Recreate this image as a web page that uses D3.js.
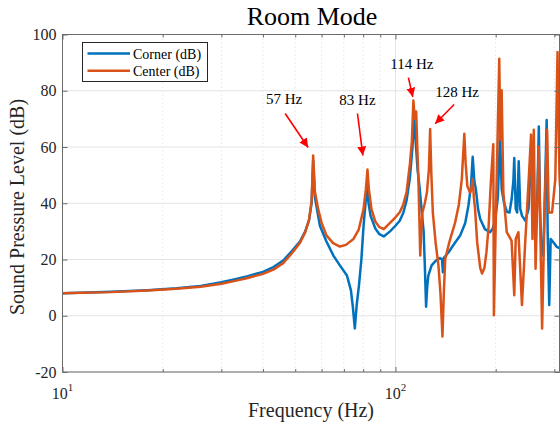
<!DOCTYPE html>
<html>
<head>
<meta charset="utf-8">
<script src="https://cdn.jsdelivr.net/npm/d3@7"></script>
<style>
    html, body { margin: 0; padding: 0; background: #ffffff; }
    svg { display: block; font-family: "Liberation Serif", "Times New Roman", serif; }
</style>
</head>
<body>
<div id="chart"></div>
<script>
// Corner microphone (blue)
const CORNER_FREQ = [
    10, 14, 18, 22, 26, 30, 33, 36, 40, 43, 46, 49, 51.7, 53.5, 55, 56, 56.6, 57.3, 59.3, 62,
    65.1, 68, 71.5, 73.5, 74.5, 75.5, 76.5, 77.7, 79, 80.2, 81.3, 82.1, 83, 84.2, 87, 89.5, 92.2, 96.3,
    100, 103, 105.5, 108, 110.5, 112.5, 113.8, 115, 116.5, 118.3, 120, 121.5, 122.5, 123.6, 124.5, 125.5,
    128.4, 132, 136, 138, 138.8, 139.6, 144.4, 150, 156.4, 162, 165.6, 168.5, 170.6, 172.5, 174.4, 177,
    179.7, 185.6, 192.3, 196, 199.4, 203, 206, 208.5, 212, 216, 220, 223.3, 226, 227.4, 229.7, 232,
    234.5, 237, 240, 245.6, 251, 255.4, 258, 262, 264.5, 267, 269.5, 271.5, 274, 277.7, 280, 284.5,
    286.5, 289.6, 292.5, 298, 305, 312
];
const CORNER_SPL = [
    8.0, 8.5, 9.1, 9.8, 10.6, 11.9, 13.0, 14.1, 15.6, 17.3, 19.6, 23.2, 26.5, 29.8, 34.0, 40.0, 55.0, 42.0, 32.0, 26.5,
    21.4, 18.0, 14.3, 9.0, 3.0, -4.5, 4.0, 10.8, 20.0, 32.0, 40.0, 45.9, 40.0, 35.5, 31.0, 29.0, 28.2, 30.0,
    32.0, 33.8, 36.5, 41.0, 49.0, 60.0, 71.0, 62.0, 52.0, 44.9, 36.7, 30.0, 18.0, 3.2, 10.0, 14.3,
    17.9, 19.5, 20.5, 20.0, 15.5, 20.5, 22.6, 25.5, 28.5, 33.0, 39.1, 46.0, 56.5, 48.0, 44.9, 38.0,
    34.4, 30.8, 29.7, 31.0, 34.4, 42.0, 63.8, 45.0, 40.0, 37.0, 36.7, 41.4, 48.0, 56.1, 38.0, 36.7,
    54.9, 38.0, 35.5, 33.8, 38.0, 58.0, 42.0, 32.0, 32.0, 45.0, 67.3, 40.0, 25.0, 21.4, 35.0, 69.6,
    30.0, 3.8, 27.3, 26.1, 24.5, 24.0
];

// Center microphone (orange)
const CENTER_FREQ = [
    10, 14, 18, 22, 26, 30, 33, 36, 40, 43, 46, 49, 51.7, 53.5, 55, 56, 56.6, 57.3, 58.6, 60,
    62.1, 65, 68.1, 71, 74.8, 77.5, 80.2, 81.5, 82.4, 83.2, 84.7, 87, 89.5, 92.2, 96.3, 100, 103, 105.5,
    108, 110.5, 112, 113.2, 114.3, 115.4, 116.3, 117.2, 118.7, 119.5, 120.5, 122.5, 124.3, 126, 127.1, 128.2,
    129.5, 132, 134.6, 136.5, 138.4, 139.7, 141.1, 145, 151.1, 155, 158.2, 161, 162.5, 164.4, 167.4, 169,
    170.6, 172, 173.4, 176, 179.7, 182, 185, 187.6, 190.5, 193.5, 196.7, 197.5, 200, 205, 206.5, 208.4,
    210.9, 215.9, 223.2, 227.4, 229.7, 234, 239.8, 245.6, 251.3, 255.4, 257.9, 260.3, 263.5, 269.4, 272.6, 275.7,
    280.5, 285.4, 288.6, 295.3, 302, 306.7, 310.8, 312
];
const CENTER_SPL = [
    8.0, 8.4, 9.0, 9.6, 10.3, 11.4, 12.4, 13.4, 14.9, 16.4, 18.7, 22.4, 26.0, 29.5, 34.0, 41.0, 57.0, 44.0, 37.9, 33.0,
    28.5, 25.8, 24.6, 25.2, 27.3, 30.5, 37.9, 45.0, 52.0, 45.0, 37.9, 33.5, 31.5, 30.8, 33.0, 35.0, 36.8, 39.5,
    44.0, 54.0, 62.0, 76.5, 70.0, 72.6, 60.0, 48.5, 21.4, 30.0, 36.7, 40.0, 43.8, 52.0, 66.4, 50.0,
    36.7, 26.0, 17.9, 8.0, -7.4, 8.0, 20.2, 26.0, 33.2, 39.5, 48.5, 64.7, 54.0, 46.1, 43.8, 45.0,
    48.5, 42.0, 37.9, 26.0, 17.0, 15.0, 17.0, 22.6, 32.0, 48.0, 61.0, 0.2, 32.0, 91.4, 62.6, 80.2,
    43.8, 29.7, 26.7, 7.3, 27.3, 29.7, 3.8, 27.3, 48.5, 64.4, 27.3, 66.1, 16.7, 60.2, 27.3, -4.5,
    38.0, 66.1, 36.7, 36.7, 48.5, 93.8, 50.8, 46.0
];

const SERIES_LABELS = ['Corner (dB)', 'Center (dB)'];

const X_DOMAIN = [10, 312];
const Y_DOMAIN = [-20, 100];
const Y_TICKS = [-20, 0, 20, 40, 60, 80, 100];
const X_MAJOR_TICKS = [10, 100];
const X_MAJOR_EXPONENTS = ['1', '2'];
const X_MINOR_TICKS = [20, 30, 40, 50, 60, 70, 80, 90, 200, 300];

// resonance peaks that carry a label
const PEAK_LABELS = ['57 Hz', '83 Hz', '114 Hz', '128 Hz'];
const PEAK_FREQ = [56.6, 82.4, 113.2, 127.1];
const PEAK_SPL = [57.0, 52.0, 76.5, 66.4];

// label / arrow offsets from the peak, in pixels
const PEAK_LAYOUT = [
    { text: [-29, -51], tail: [-28, -42], tip: [-5, -8] },
    { text: [-10, -65], tail: [-10, -56], tip: [-4.6, -14] },
    { text: [-1.6, -31.5], tail: [-5, -23], tip: [-0.6, -3.7] },
    { text: [27, -32.3], tail: [24, -24.5], tip: [5, -5.3] }
];

const COLOR_CORNER = '#0072BD';
const COLOR_CENTER = '#D95319';
const AXIS_COLOR = '#6b6b6b';
const TEXT_COLOR = '#262626';
const GRID_COLOR = '#e3e3e3';

const width = 560;
const height = 432;
const plot = { left: 62.5, right: 560, top: 34.5, bottom: 372 };

const svg = d3.select('#chart')
    .append('svg')
    .attr('width', width)
    .attr('height', height);

const xScale = d3.scaleLog().domain(X_DOMAIN).range([plot.left, plot.right]);
const yScale = d3.scaleLinear().domain(Y_DOMAIN).range([plot.bottom, plot.top]);

svg.append('defs')
    .append('clipPath')
    .attr('id', 'plot-clip')
    .append('rect')
    .attr('x', plot.left)
    .attr('y', plot.top)
    .attr('width', plot.right - plot.left)
    .attr('height', plot.bottom - plot.top);

// grid
const gridGroup = svg.append('g');

gridGroup.selectAll('.grid-y')
    .data(Y_TICKS)
    .enter()
    .append('line')
    .attr('x1', plot.left)
    .attr('x2', plot.right)
    .attr('y1', (value) => yScale(value))
    .attr('y2', (value) => yScale(value))
    .attr('stroke', GRID_COLOR)
    .attr('stroke-width', 1);

gridGroup.selectAll('.grid-x-major')
    .data(X_MAJOR_TICKS)
    .enter()
    .append('line')
    .attr('x1', (value) => xScale(value))
    .attr('x2', (value) => xScale(value))
    .attr('y1', plot.top)
    .attr('y2', plot.bottom)
    .attr('stroke', GRID_COLOR)
    .attr('stroke-width', 1);

gridGroup.selectAll('.grid-x-minor')
    .data(X_MINOR_TICKS)
    .enter()
    .append('line')
    .attr('x1', (value) => xScale(value))
    .attr('x2', (value) => xScale(value))
    .attr('y1', plot.top)
    .attr('y2', plot.bottom)
    .attr('stroke', '#e6e6e6')
    .attr('stroke-width', 1)
    .attr('stroke-dasharray', '1.5,2.5');

// series
const lineGenerator = d3.line()
    .x((datum) => xScale(datum[0]))
    .y((datum) => yScale(datum[1]));

const seriesGroup = svg.append('g').attr('clip-path', 'url(#plot-clip)');

seriesGroup.append('path')
    .datum(d3.zip(CORNER_FREQ, CORNER_SPL))
    .attr('fill', 'none')
    .attr('stroke', COLOR_CORNER)
    .attr('stroke-width', 2.5)
    .attr('stroke-linejoin', 'round')
    .attr('d', lineGenerator);

seriesGroup.append('path')
    .datum(d3.zip(CENTER_FREQ, CENTER_SPL))
    .attr('fill', 'none')
    .attr('stroke', COLOR_CENTER)
    .attr('stroke-width', 2.5)
    .attr('stroke-linejoin', 'round')
    .attr('d', lineGenerator);

// axes box with inward ticks on all sides
const axisGroup = svg.append('g');

function styleAxis(group) {
    group.select('.domain').remove();
    group.selectAll('line').attr('stroke', AXIS_COLOR);
}

axisGroup.append('g')
    .attr('transform', `translate(0,${plot.bottom})`)
    .call(d3.axisBottom(xScale).tickValues(X_MAJOR_TICKS).tickSize(-5).tickFormat(''))
    .call(styleAxis);
axisGroup.append('g')
    .attr('transform', `translate(0,${plot.bottom})`)
    .call(d3.axisBottom(xScale).tickValues(X_MINOR_TICKS).tickSize(-3).tickFormat(''))
    .call(styleAxis);
axisGroup.append('g')
    .attr('transform', `translate(0,${plot.top})`)
    .call(d3.axisTop(xScale).tickValues(X_MAJOR_TICKS).tickSize(-5).tickFormat(''))
    .call(styleAxis);
axisGroup.append('g')
    .attr('transform', `translate(0,${plot.top})`)
    .call(d3.axisTop(xScale).tickValues(X_MINOR_TICKS).tickSize(-3).tickFormat(''))
    .call(styleAxis);
axisGroup.append('g')
    .attr('transform', `translate(${plot.left},0)`)
    .call(d3.axisLeft(yScale).tickValues(Y_TICKS).tickSize(-5).tickFormat(''))
    .call(styleAxis);
axisGroup.append('g')
    .attr('transform', `translate(${plot.right - 0.5},0)`)
    .call(d3.axisRight(yScale).tickValues(Y_TICKS).tickSize(-5).tickFormat(''))
    .call(styleAxis);

axisGroup.append('rect')
    .attr('x', plot.left)
    .attr('y', plot.top)
    .attr('width', plot.right - plot.left - 0.5)
    .attr('height', plot.bottom - plot.top)
    .attr('fill', 'none')
    .attr('stroke', AXIS_COLOR)
    .attr('stroke-width', 1);

// tick labels
svg.append('g')
    .selectAll('text')
    .data(Y_TICKS)
    .enter()
    .append('text')
    .attr('x', plot.left - 6)
    .attr('y', (value) => yScale(value) + 5.5)
    .attr('text-anchor', 'end')
    .attr('font-size', 16)
    .attr('fill', TEXT_COLOR)
    .text((value) => value);

const xLabels = svg.append('g')
    .selectAll('text')
    .data(X_MAJOR_TICKS)
    .enter()
    .append('text')
    .attr('x', (value) => xScale(value))
    .attr('y', 399)
    .attr('text-anchor', 'middle')
    .attr('font-size', 16)
    .attr('fill', TEXT_COLOR);

xLabels.append('tspan').text('10');
xLabels.append('tspan')
    .attr('dy', -8)
    .attr('font-size', 11)
    .text((value, index) => X_MAJOR_EXPONENTS[index]);

// titles
svg.append('text')
    .attr('x', 312)
    .attr('y', 25)
    .attr('text-anchor', 'middle')
    .attr('font-size', 26)
    .attr('fill', '#000000')
    .text('Room Mode');

svg.append('text')
    .attr('x', 311)
    .attr('y', 417)
    .attr('text-anchor', 'middle')
    .attr('font-size', 20)
    .attr('fill', TEXT_COLOR)
    .text('Frequency (Hz)');

svg.append('text')
    .attr('transform', 'rotate(-90)')
    .attr('x', -207)
    .attr('y', 24)
    .attr('text-anchor', 'middle')
    .attr('font-size', 20)
    .attr('fill', TEXT_COLOR)
    .text('Sound Pressure Level (dB)');

// legend
const legend = svg.append('g');

legend.append('rect')
    .attr('x', 82.5)
    .attr('y', 42.5)
    .attr('width', 125)
    .attr('height', 39)
    .attr('fill', '#ffffff')
    .attr('stroke', '#262626')
    .attr('stroke-width', 1);

[COLOR_CORNER, COLOR_CENTER].forEach((color, index) => {
    const rowY = 53.5 + index * 17.3;
    legend.append('line')
        .attr('x1', 87.5)
        .attr('x2', 130)
        .attr('y1', rowY)
        .attr('y2', rowY)
        .attr('stroke', color)
        .attr('stroke-width', 2.5);
    legend.append('text')
        .attr('x', 133)
        .attr('y', rowY + 5)
        .attr('font-size', 14)
        .attr('fill', '#000000')
        .text(SERIES_LABELS[index]);
});

// peak annotations
svg.select('defs')
    .append('marker')
    .attr('id', 'arrow-head')
    .attr('viewBox', '0 0 10 10')
    .attr('refX', 10)
    .attr('refY', 5)
    .attr('markerWidth', 9)
    .attr('markerHeight', 9)
    .attr('markerUnits', 'userSpaceOnUse')
    .attr('orient', 'auto')
    .append('path')
    .attr('d', 'M0,0 L10,5 L0,10 Z')
    .attr('fill', '#ff0000');

const annotationGroup = svg.append('g');

PEAK_LABELS.forEach((label, index) => {
    const peakX = xScale(PEAK_FREQ[index]);
    const peakY = yScale(PEAK_SPL[index]);
    const layout = PEAK_LAYOUT[index];

    annotationGroup.append('line')
        .attr('x1', peakX + layout.tail[0])
        .attr('y1', peakY + layout.tail[1])
        .attr('x2', peakX + layout.tip[0])
        .attr('y2', peakY + layout.tip[1])
        .attr('stroke', '#ff0000')
        .attr('stroke-width', 1.6)
        .attr('marker-end', 'url(#arrow-head)');

    annotationGroup.append('text')
        .attr('x', peakX + layout.text[0])
        .attr('y', peakY + layout.text[1])
        .attr('text-anchor', 'middle')
        .attr('font-size', 15)
        .attr('fill', '#000000')
        .text(label);
});
</script>
</body>
</html>
